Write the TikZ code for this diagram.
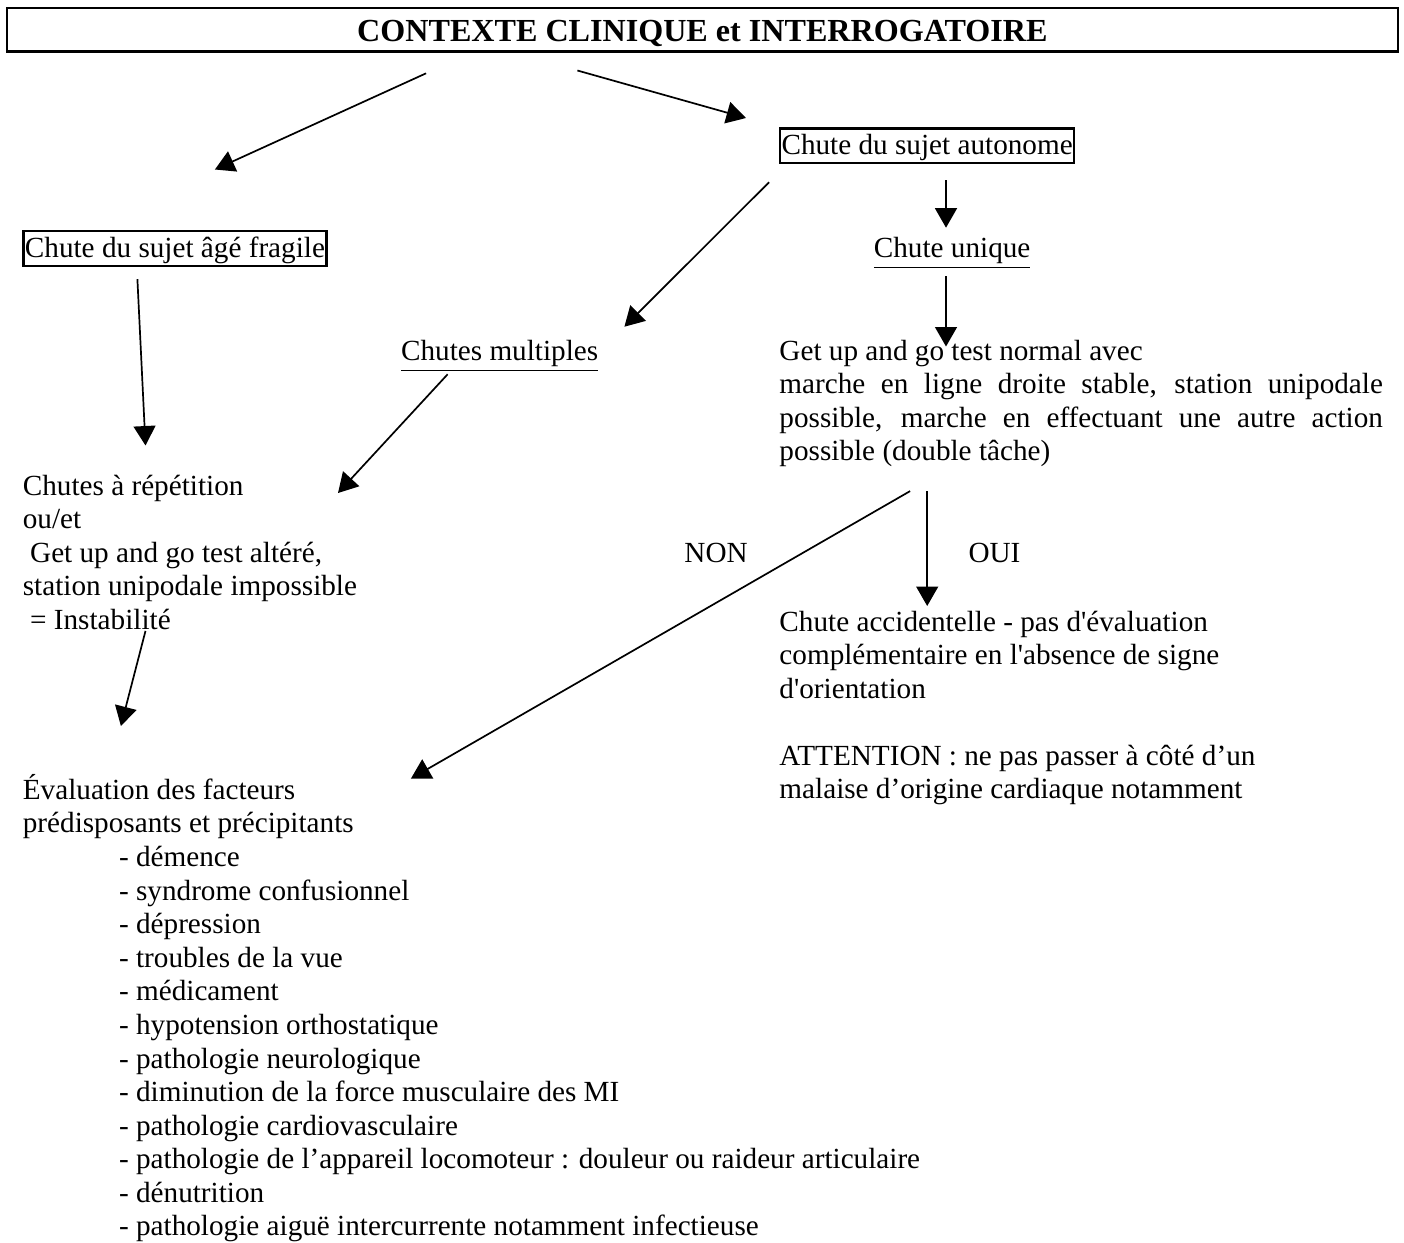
\documentclass[tikz,border=0pt]{standalone}
\usepackage{fontspec}
\setmainfont{Liberation Serif}
\usetikzlibrary{arrows.meta}
\tikzstyle{titlebox} =[
    draw,
    line width=1pt,
    rectangle,
    inner sep=0pt,
    minimum width=571.8pt,
    minimum height=17.9pt,
    text height=9.7pt,
    text depth=0pt,
    font=\fontsize{13.2pt}{15pt}\selectfont\bfseries
    ]
\tikzstyle{chutebox} = [
    draw,
    line width=0.9pt,
    rectangle,
    inner xsep=0.6pt,
    inner ysep=0pt,
    text height=10.7pt,
    text depth=3.4pt,
    anchor=base west
    ]
\tikzstyle{txt} = [
    inner sep=0pt,
    anchor=base west,
    align=left
    ]
\tikzstyle{fleche} = [
    -{Triangle[length=8pt,width=9pt]},
    line width=0.7pt
    ]

\begin{document}
\begin{tikzpicture}[x=0.411pt, y=-0.411pt, font=\fontsize{12pt}{13.8pt}\selectfont]
\useasboundingbox (0,0) rectangle (1404,1242);

\node[titlebox] (contexte) at (702.4,29.75) {CONTEXTE CLINIQUE et INTERROGATOIRE};

\node[chutebox] (fragile) at (22.4,257.4) {Chute du sujet âgé fragile};
\node[chutebox] (autonome) at (779,154.5) {Chute du sujet autonome};
\node[txt] (unique) at (873.4,257.4) {\underline{Chute unique}};
\node[txt] (multiples) at (400.6,360.4) {\underline{Chutes multiples}};

% with a text width the node sits on its first line
\node[txt, text width=248pt, align=justify] (getup) at (779,360) {%
Get up and go test normal avec\\
marche en ligne droite stable, station unipodale\linebreak
possible, marche en effectuant une autre action\linebreak
possible (double tâche)};

% the other multi-line nodes sit on their last line
\node[txt] (repetition) at (22.4,629.3) {%
Chutes à répétition\\
ou/et\\
\hspace*{0.25em}Get up and go test altéré,\\
station unipodale impossible\\
\hspace*{0.25em}= Instabilité};

\node[txt] (non) at (684,562.4) {NON};
\node[txt] (oui) at (968,562.4) {OUI};

\node[txt] (accident) at (779,798.9) {%
Chute accidentelle - pas d\textquotesingle{}évaluation\\
complémentaire en l\textquotesingle{}absence de signe\\
d\textquotesingle{}orientation\\[13.8pt]
ATTENTION : ne pas passer à côté d’un\\
malaise d’origine cardiaque notamment};

\node[txt] (evaluation) at (22.4,832.6) {%
Évaluation des facteurs\\
prédisposants et précipitants};

\node[txt] (facteurs) at (118.6,1235.9) {%
- démence\\
- syndrome confusionnel\\
- dépression\\
- troubles de la vue\\
- médicament\\
- hypotension orthostatique\\
- pathologie neurologique\\
- diminution de la force musculaire des MI\\
- pathologie cardiovasculaire\\
- pathologie de l’appareil locomoteur : douleur ou raideur articulaire\\
- dénutrition\\
- pathologie aiguë intercurrente notamment infectieuse};

% free ends of the arrows
\coordinate (c1a) at (426.1,73.3);
\coordinate (c1b) at (214.9,169.5);
\coordinate (c2a) at (577.4,70.5);
\coordinate (c2b) at (746,118);
\coordinate (c3a) at (946,180.2);
\coordinate (c3b) at (946,227.7);
\coordinate (c4a) at (769.1,182.2);
\coordinate (c4b) at (624.4,326.7);
\coordinate (c5a) at (137.4,279.2);
\coordinate (c5b) at (145.5,445.5);
\coordinate (c6a) at (946,276.4);
\coordinate (c6b) at (946,346.5);
\coordinate (c7a) at (447.6,374.3);
\coordinate (c7b) at (338,493);
\coordinate (c8a) at (145.5,630.9);
\coordinate (c8b) at (120.9,726);
\coordinate (c9a) at (910.1,491.1);
\coordinate (c9b) at (410.9,778.6);
\coordinate (c10a) at (927.2,491);
\coordinate (c10b) at (927.2,606);

\draw[fleche] (c1a) -- (c1b);
\draw[fleche] (c2a) -- (c2b);
\draw[fleche] (c3a) -- (c3b);
\draw[fleche] (c4a) -- (c4b);
\draw[fleche] (c5a) -- (c5b);
\draw[fleche] (c6a) -- (c6b);
\draw[fleche] (c7a) -- (c7b);
\draw[fleche] (c8a) -- (c8b);
\draw[fleche] (c9a) -- (c9b);
\draw[fleche] (c10a) -- (c10b);
\end{tikzpicture}
\end{document}
